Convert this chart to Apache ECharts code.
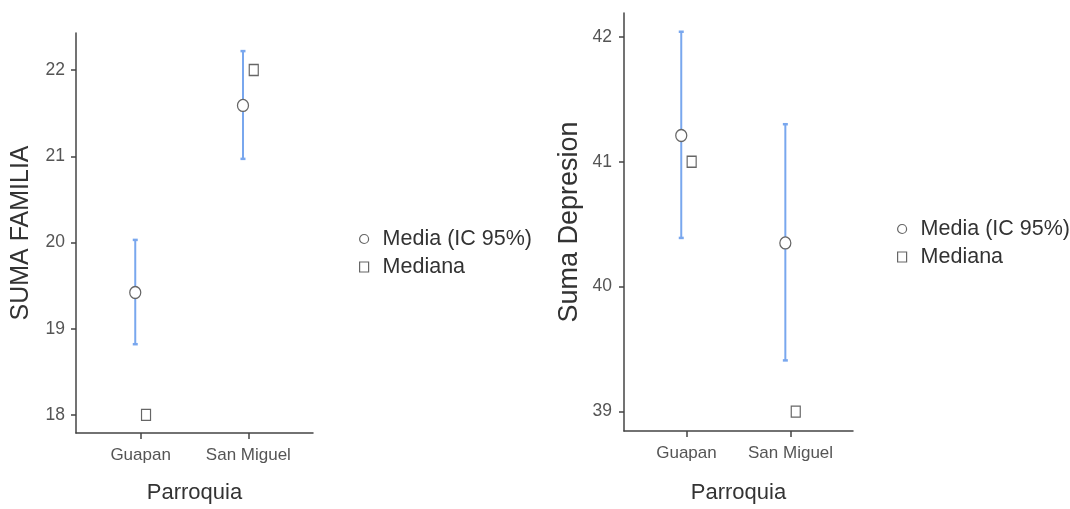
<!DOCTYPE html>
<html>
<head>
<meta charset="utf-8">
<script src="https://cdn.jsdelivr.net/npm/echarts@6/dist/echarts.min.js"></script>
<style>
html,body{margin:0;padding:0;background:#fff;}
#chart{width:1070px;height:509px;}
</style>
</head>
<body>
<div id="chart"></div>
<script>
// ---- data ----
const categories = ['Guapan', 'San Miguel'];

// Left panel: SUMA FAMILIA
const famMean   = [19.42, 21.59];
const famLower  = [18.82, 20.97];
const famUpper  = [20.03, 22.22];
const famMedian = [18, 22];
const famTicks  = [18, 19, 20, 21, 22];

// Right panel: Suma Depresion
const depMean   = [41.21, 40.35];
const depLower  = [40.39, 39.41];
const depUpper  = [42.04, 41.30];
const depMedian = [41, 39];
const depTicks  = [39, 40, 41, 42];

const MEAN_NAME = 'Media (IC 95%)';
const MEDIAN_NAME = 'Mediana';

// ---- build ----
const FONT = 'Liberation Sans';
const DODGE = 0.05;
const catPos = categories.map((c, i) => i + 1);
const ERR_COLOR = '#79a7ee';
const MARK_BORDER = '#666';
const AXIS_COLOR = '#444';

function errData(lo, hi) { return catPos.map((p, i) => [p - DODGE, lo[i], hi[i]]); }
function pts(vals, off) { return catPos.map((p, i) => [p + off, vals[i]]); }

function errSeries(idx, lo, hi) {
  return {
    type: 'custom', xAxisIndex: idx, yAxisIndex: idx, silent: true, z: 1,
    data: errData(lo, hi),
    renderItem: function (params, api) {
      const x = api.value(0);
      const a = api.coord([x, api.value(1)]);
      const b = api.coord([x, api.value(2)]);
      const cw = 2.5;
      const st = { stroke: ERR_COLOR, lineWidth: 2 };
      const cap = { stroke: ERR_COLOR, lineWidth: 2.5 };
      return { type: 'group', children: [
        { type: 'line', shape: { x1: a[0], y1: a[1], x2: b[0], y2: b[1] }, style: st },
        { type: 'line', shape: { x1: a[0]-cw, y1: a[1], x2: a[0]+cw, y2: a[1] }, style: cap },
        { type: 'line', shape: { x1: b[0]-cw, y1: b[1], x2: b[0]+cw, y2: b[1] }, style: cap }
      ]};
    }
  };
}
function meanSeries(idx, vals) {
  return {
    name: MEAN_NAME, type: 'scatter', xAxisIndex: idx, yAxisIndex: idx, z: 3,
    symbol: 'circle', symbolSize: [11, 12],
    itemStyle: { color: '#fff', borderColor: MARK_BORDER, borderWidth: 1.3, opacity: 1 },
    data: pts(vals, -DODGE)
  };
}
function medianSeries(idx, vals) {
  return {
    name: MEDIAN_NAME, type: 'scatter', xAxisIndex: idx, yAxisIndex: idx, z: 3,
    symbol: 'rect', symbolSize: [9, 11],
    itemStyle: { color: '#fff', borderColor: MARK_BORDER, borderWidth: 1.3, opacity: 1 },
    data: pts(vals, DODGE)
  };
}
function xAxis(idx, gap) {
  return {
    type: 'value', gridIndex: idx, min: 0.4, max: 2.6,
    name: 'Parroquia', nameLocation: 'middle', nameGap: gap,
    nameTextStyle: { fontFamily: FONT, fontSize: 22, color: '#333' },
    axisLine: { show: true, lineStyle: { color: AXIS_COLOR, width: 1.5 } },
    axisTick: { show: true, length: 6, customValues: catPos, lineStyle: { color: AXIS_COLOR, width: 1.5 } },
    axisLabel: { customValues: catPos, margin: 14, fontFamily: FONT, fontSize: 17, color: '#555',
      formatter: v => categories[Math.round(v) - 1] },
    splitLine: { show: false }
  };
}
function yAxis(idx, name, min, max, ticks, gap, fs, margin) {
  return {
    type: 'value', gridIndex: idx, min: min, max: max,
    name: name, nameLocation: 'middle', nameGap: gap,
    nameTextStyle: { fontFamily: FONT, fontSize: fs, color: '#333' },
    axisLine: { show: true, lineStyle: { color: AXIS_COLOR, width: 1.5 } },
    axisTick: { show: true, length: 5, customValues: ticks, lineStyle: { color: AXIS_COLOR, width: 1.5 } },
    axisLabel: { customValues: ticks, margin: margin, fontFamily: FONT, fontSize: 17.5, color: '#555' },
    splitLine: { show: false }
  };
}
function legend(left, top) {
  return {
    orient: 'vertical', left: left, top: top,
    itemWidth: 9, itemHeight: 10, itemGap: 6,
    data: [{ name: MEAN_NAME, icon: 'circle' }, { name: MEDIAN_NAME, icon: 'rect' }],
    itemStyle: { color: '#fff', borderColor: MARK_BORDER, borderWidth: 1.2 },
    textStyle: { fontFamily: FONT, fontSize: 21.5, color: '#333', lineHeight: 22, padding: [0, 0, 0, 9] },
    selectedMode: false
  };
}

const option = {
  animation: false,
  backgroundColor: '#fff',
  grid: [
    { left: 76, top: 33, width: 237, height: 402 },
    { left: 624, top: 13, width: 229, height: 419 }
  ],
  xAxis: [ xAxis(0, 49), xAxis(1, 51) ],
  yAxis: [
    yAxis(0, 'SUMA FAMILIA', 17.79, 22.43, famTicks, 42, 25, 11),
    yAxis(1, 'Suma Depresion', 38.845, 42.19, depTicks, 41, 27, 12)
  ],
  legend: [ legend(354, 223), legend(892, 213) ],
  series: [
    errSeries(0, famLower, famUpper),
    meanSeries(0, famMean),
    medianSeries(0, famMedian),
    errSeries(1, depLower, depUpper),
    meanSeries(1, depMean),
    medianSeries(1, depMedian)
  ]
};

const chart = echarts.init(document.getElementById('chart'), null, { renderer: 'canvas' });
chart.setOption(option);
</script>
</body>
</html>
